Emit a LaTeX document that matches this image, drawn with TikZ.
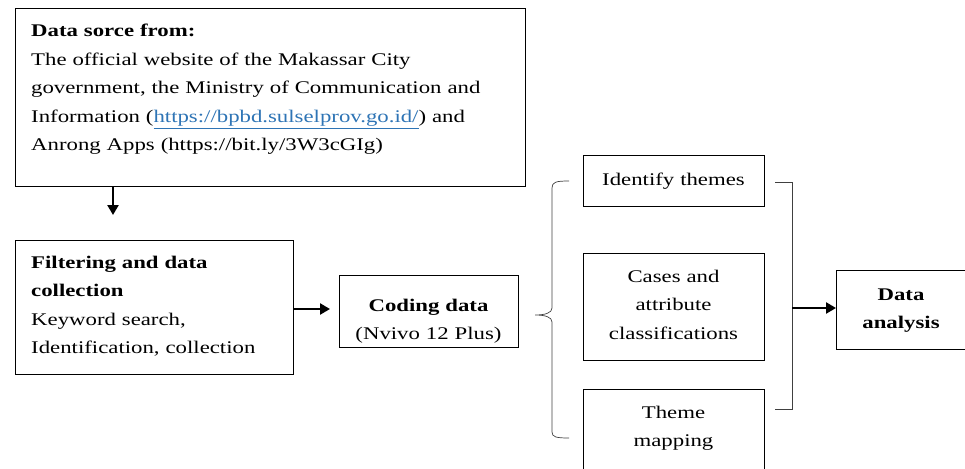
\documentclass[tikz,border=0pt]{standalone}
\usepackage{fontspec}
\setmainfont{Liberation Serif}[FakeStretch=1.28]
\usetikzlibrary{arrows.meta}
\definecolor{linkblue}{HTML}{2E74B5}
\begin{document}
\begin{tikzpicture}[x=1pt,y=-1pt,
  box/.style={draw=black, line width=0.8pt, inner sep=0pt, anchor=north west},
  txt/.style={inner sep=0pt, font=\fontsize{17.8}{28.5}\selectfont},
  ctxt/.style={txt, anchor=base, align=center, text width=175pt},
  flow/.style={line width=2.4pt, -{Triangle[length=10pt,width=11pt]}},
  brk/.style={line width=0.7pt, draw=black!75}]
\useasboundingbox (0,0) rectangle (965,468);
\begin{scope}
\clip (0,0) rectangle (965,468);
% source box
\node[box, minimum width=510pt, minimum height=178pt] (src) at (15,8) {};
\node[txt, anchor=base west, align=left, text width=494pt] (srctxt) at (31,37)
 {\textbf{Data sorce from:}\\
  The official website of the Makassar City\\
  government, the Ministry of Communication and\\
  Information (\textcolor{linkblue}{\underline{https://bpbd.sulselprov.go.id/}}) and\\
  Anrong Apps (https://bit.ly/3W3cGIg)};
% filter box
\node[box, minimum width=278pt, minimum height=134pt] (filt) at (15,240) {};
\node[txt, anchor=base west, align=left, text width=262pt] (filttxt) at (31,268)
 {\textbf{Filtering and data}\\
  \textbf{collection}\\
  Keyword search,\\
  Identification, collection};
% coding box
\node[box, minimum width=179pt, minimum height=72pt] (code) at (339,275) {};
\node[ctxt] (codetxt) at (428.5,311)
 {\textbf{Coding data}\\(Nvivo 12 Plus)};
% identify
\node[box, minimum width=181pt, minimum height=51pt] (ident) at (583,155) {};
\node[ctxt] (identtxt) at (673.5,185) {Identify themes};
% cases
\node[box, minimum width=181pt, minimum height=107pt] (cases) at (583,253) {};
\node[ctxt] (casestxt) at (673.5,282)
 {Cases and\\attribute\\classifications};
% theme mapping
\node[box, minimum width=181pt, minimum height=100pt] (theme) at (583,389) {};
\node[ctxt] (themetxt) at (673.5,418)
 {Theme\\mapping};
% data analysis
\node[box, minimum width=129pt, minimum height=79pt] (ana) at (836,270) {};
\node[ctxt, text width=125pt] (anatxt) at (901,300)
 {\textbf{Data}\\\textbf{analysis}};
\end{scope}
% left brace
\coordinate (bt) at (569,181);
\coordinate (bb) at (569,438);
\coordinate (btip) at (535,315);
\draw[brk] (bt) .. controls (556,181) and (552,182) .. (552,188)
  -- (552,308) .. controls (552,313) and (545,315) .. (btip)
  .. controls (545,315) and (552,317) .. (552,322)
  -- (552,432) .. controls (552,437) and (556,438) .. (bb);
% right bracket
\coordinate (rt) at (775,182);
\coordinate (rb) at (775,409);
\coordinate (rm) at (792,308);
\draw[brk] (rt) -- (792,182) -- (792,409) -- (rb);
% arrows
\coordinate (a1) at (113,215);
\coordinate (a2) at (330,309);
\draw[flow] (src.south west -| a1) -- (a1);
\draw[flow] (filt.east |- a2) -- (a2);
\draw[flow] (rm) -- (ana.west |- rm);
\end{tikzpicture}
\end{document}
